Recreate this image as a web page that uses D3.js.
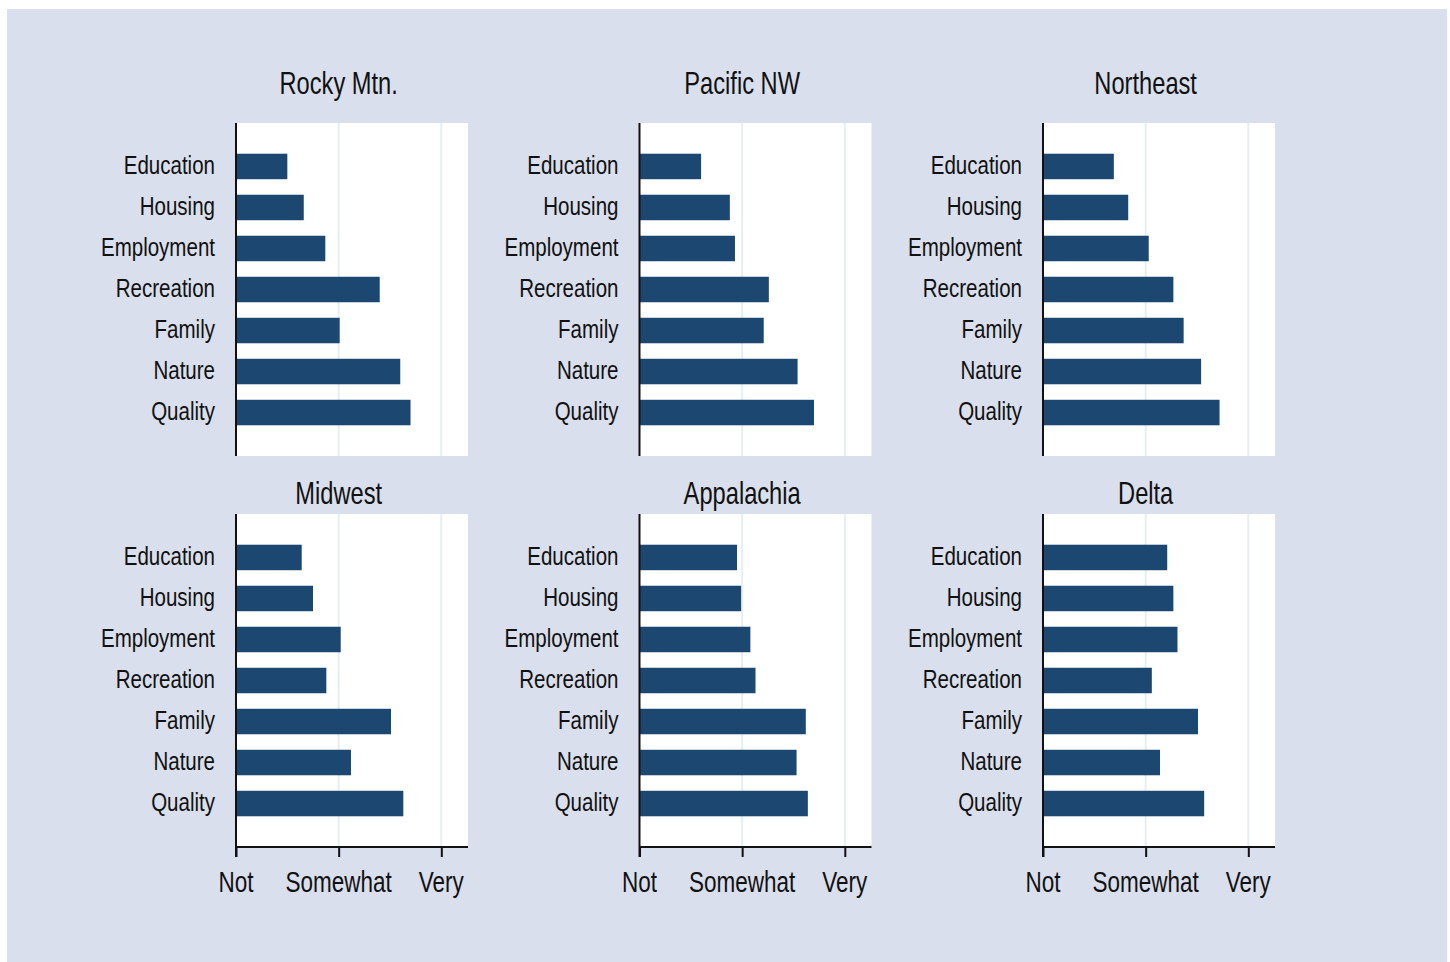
<!DOCTYPE html>
<html>
<head>
<meta charset="utf-8">
<script src="https://cdn.jsdelivr.net/npm/d3@7"></script>
<style>
  html, body { margin: 0; padding: 0; background: #ffffff; }
  svg { display: block; }
  text { font-family: "Liberation Sans", Arial, sans-serif; fill: #111; }
</style>
</head>
<body>
<svg id="chart" width="1450" height="962"></svg>
<script>
// ---- data ----
const regions = ["Rocky Mtn.", "Pacific NW", "Northeast", "Midwest", "Appalachia", "Delta"];
const categories = ["Education", "Housing", "Employment", "Recreation", "Family", "Nature", "Quality"];
const tickValues = [0, 1, 2];
const tickLabels = ["Not", "Somewhat", "Very"];

const rockyMtn   = [0.50, 0.66, 0.87, 1.40, 1.01, 1.60, 1.70];
const pacificNW  = [0.60, 0.88, 0.93, 1.26, 1.21, 1.54, 1.70];
const northeast  = [0.69, 0.83, 1.03, 1.27, 1.37, 1.54, 1.72];
const midwest    = [0.64, 0.75, 1.02, 0.88, 1.51, 1.12, 1.63];
const appalachia = [0.95, 0.99, 1.08, 1.13, 1.62, 1.53, 1.64];
const delta      = [1.21, 1.27, 1.31, 1.06, 1.51, 1.14, 1.57];

const seriesValues = [rockyMtn, pacificNW, northeast, midwest, appalachia, delta];

// ---- layout ----
const svg = d3.select("#chart");
svg.append("rect").attr("x", 7).attr("y", 9).attr("width", 1440).attr("height", 953)
  .attr("fill", "#d9dfec");

const colX = [236, 639.5, 1043];
const rowY = [123, 514];
const plotW = 232, plotH = 333;
const titleOffset = [-29, -10];   // baseline of title relative to plot top
const barColor = "#1c4770";
const gridColor = "#e7eef3";

const x = d3.scaleLinear().domain([0, 2.26]).range([0, plotW]);
const y = d3.scalePoint().domain(categories).range([0, plotH]).padding(1.06);
const barH = 25.5;

// condensed text helper: horizontally squeezed real text
function ctext(parent, tx, ty, str, size, sx, anchor) {
  return parent.append("text")
    .attr("transform", `translate(${tx},${ty}) scale(${sx},1)`)
    .attr("text-anchor", anchor)
    .attr("font-size", size)
    .text(str);
}

regions.forEach((name, i) => {
  const col = i % 3, row = Math.floor(i / 3);
  const g = svg.append("g").attr("transform", `translate(${colX[col]},${rowY[row]})`);

  // plot background
  g.append("rect").attr("x", 0).attr("y", 0).attr("width", plotW).attr("height", plotH)
    .attr("fill", "#ffffff");

  // gridlines
  g.selectAll("line.grid").data(tickValues.slice(1)).join("line")
    .attr("class", "grid")
    .attr("x1", d => x(d)).attr("x2", d => x(d))
    .attr("y1", 0).attr("y2", plotH)
    .attr("stroke", gridColor).attr("stroke-width", 2);

  // bars
  const vals = seriesValues[i];
  g.selectAll("rect.bar").data(categories).join("rect")
    .attr("class", "bar")
    .attr("x", x(0))
    .attr("y", d => y(d) - barH / 2)
    .attr("width", (d, k) => x(vals[k]) - x(0))
    .attr("height", barH)
    .attr("fill", barColor);

  // category labels
  categories.forEach(c => ctext(g, -21, y(c) + 7.5, c, 26, 0.79, "end"));

  // left axis line
  const leftBottom = row === 1 ? plotH + 10 : plotH;
  g.append("line").attr("x1", 0).attr("x2", 0).attr("y1", 0).attr("y2", leftBottom)
    .attr("stroke", "#111").attr("stroke-width", 2);

  // title
  ctext(g, x(1), titleOffset[row], name, 32, 0.74, "middle");

  // bottom axis for bottom row
  if (row === 1) {
    const axis = d3.axisBottom(x).tickValues(tickValues)
      .tickFormat("").tickSizeInner(10).tickSizeOuter(0);
    const ag = g.append("g").attr("transform", `translate(0,${plotH})`).call(axis);
    ag.select(".domain").attr("stroke", "#111").attr("stroke-width", 2)
      .attr("d", `M0,0H${plotW}`);
    ag.selectAll(".tick line").attr("stroke", "#111").attr("stroke-width", 2);
    tickValues.forEach((v, k) => ctext(g, x(v), plotH + 45, tickLabels[k], 30, 0.75, "middle"));
  }
});
</script>
</body>
</html>
